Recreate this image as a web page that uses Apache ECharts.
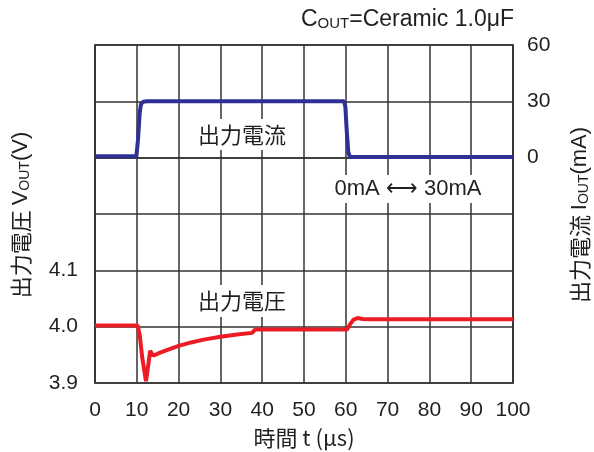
<!DOCTYPE html>
<html>
<head>
<meta charset="utf-8">
<script src="https://cdn.jsdelivr.net/npm/echarts@6/dist/echarts.min.js"></script>
<style>html,body{margin:0;padding:0;background:#fff;}#c{width:594px;height:452px;}</style>
</head>
<body>
<div id="c"></div>
<script>
// ---- data ----
const xTicks = [0, 10, 20, 30, 40, 50, 60, 70, 80, 90, 100];
const voltLabels = [3.9, 4.0, 4.1];
const curLabels = [0, 30, 60];

const voltT = [0, 10.2, 10.7, 11.3, 12.2, 12.8, 13.2, 13.6, 14.1, 15, 17, 20, 23, 26, 30, 34, 37.6, 38.3, 40, 50, 60.3, 61.0, 61.8, 62.8, 64, 66, 70, 80, 90, 100];
const voltV = [4.002, 4.002, 3.985, 3.945, 3.903, 3.935, 3.957, 3.952, 3.949, 3.952, 3.958, 3.966, 3.972, 3.977, 3.982, 3.986, 3.989, 3.995, 3.995, 3.995, 3.995, 4.004, 4.012, 4.0155, 4.0135, 4.013, 4.013, 4.013, 4.013, 4.013];

const curT = [0, 9.9, 10.3, 10.7, 11.0, 11.5, 12.5, 59.6, 59.9, 60.2, 60.6, 61.0, 62, 100];
const curV = [0.7, 0.7, 10, 24, 28.5, 29.8, 30, 30, 27, 15, 3, 0.3, 0.3, 0.3];

const voltData = voltT.map((t, i) => [t, voltV[i]]);
const curData = curT.map((t, i) => [t, curV[i]]);

const chart = echarts.init(document.getElementById('c'), null, {renderer: 'canvas'});
const font = '"Liberation Sans", Arial, "Noto Sans CJK JP", sans-serif';
const cjk = '"Noto Sans CJK JP", "Liberation Sans", sans-serif';
const txt = '#231f20';
const gridC = '#333333';

const option = {
  backgroundColor: '#ffffff',
  animation: false,
  grid: {left: 95, top: 45, width: 418, height: 338, show: true, borderColor: gridC, borderWidth: 1.5, backgroundColor: 'transparent'},
  xAxis: {
    type: 'value', min: 0, max: 100, interval: 10,
    axisLine: {show: true, lineStyle: {color: gridC, width: 1.5}},
    axisTick: {show: false},
    splitLine: {show: true, lineStyle: {color: gridC, width: 1.5}},
    axisLabel: {color: txt, fontSize: 21, fontFamily: font, margin: 17,
      formatter: v => xTicks.includes(Math.round(v)) ? String(Math.round(v)) : ''}
  },
  yAxis: [{
    type: 'value', min: 3.9, max: 4.5, interval: 0.1, position: 'left',
    axisLine: {show: true, lineStyle: {color: gridC, width: 1.5}},
    axisTick: {show: false},
    splitLine: {show: true, lineStyle: {color: gridC, width: 1.5}},
    axisLabel: {color: txt, fontSize: 21, fontFamily: font, margin: 17,
      formatter: v => { const r = Math.round(v * 10) / 10; return voltLabels.some(l => Math.abs(l - r) < 1e-6) ? r.toFixed(1) : ''; }}
  }, {
    type: 'value', min: -120, max: 60, interval: 30, position: 'right',
    axisLine: {show: true, lineStyle: {color: gridC, width: 1.5}},
    axisTick: {show: false},
    splitLine: {show: false},
    axisLabel: {color: txt, fontSize: 21, fontFamily: font, margin: 14,
      formatter: v => curLabels.includes(Math.round(v)) ? String(Math.round(v)) : ''}
  }],
  series: [{
    type: 'line', yAxisIndex: 0, data: voltData, showSymbol: false, symbol: 'none',
    lineStyle: {color: '#ed1c24', width: 4}, z: 5
  }, {
    type: 'line', yAxisIndex: 1, data: curData, showSymbol: false, symbol: 'none',
    lineStyle: {color: '#2e3192', width: 4}, z: 5
  }],
  graphic: [
    {type: 'rect', shape: {x: 187, y: 119, width: 110, height: 31}, style: {fill: '#fff'}, z: 3},
    {type: 'text', x: 242, y: 135, style: {text: '出力電流', font: '22px ' + cjk, fill: txt, align: 'center', verticalAlign: 'middle'}, z: 10},
    {type: 'rect', shape: {x: 187, y: 285, width: 110, height: 32}, style: {fill: '#fff'}, z: 3},
    {type: 'text', x: 242, y: 301, style: {text: '出力電圧', font: '22px ' + cjk, fill: txt, align: 'center', verticalAlign: 'middle'}, z: 10},
    {type: 'rect', shape: {x: 323, y: 175, width: 170, height: 28}, style: {fill: '#fff'}, z: 3},
    {type: 'text', x: 408, y: 189, style: {text: '0mA \u27F7 30mA', font: '22px ' + font, fill: txt, align: 'center', verticalAlign: 'middle'}, z: 10},
    {type: 'text', x: 514, y: 20, style: {
      text: '{n|C}{s|OUT}{n|=Ceramic 1.0μF}', align: 'right', verticalAlign: 'middle',
      rich: {n: {fontSize: 23, fontFamily: font, fill: txt, lineHeight: 23, verticalAlign: 'bottom'},
             s: {fontSize: 15, fontFamily: font, fill: txt, lineHeight: 15, verticalAlign: 'bottom'}}
    }, z: 10},
    {type: 'text', x: 21, y: 215, rotation: Math.PI / 2, style: {
      text: '{c|出力電圧 }{n|V}{s|OUT}{n|(V)}', align: 'center', verticalAlign: 'middle',
      rich: {c: {fontSize: 22, fontFamily: cjk, fill: txt, lineHeight: 22, verticalAlign: 'bottom'},
             n: {fontSize: 22, fontFamily: font, fill: txt, lineHeight: 22, verticalAlign: 'bottom'},
             s: {fontSize: 14, fontFamily: font, fill: txt, lineHeight: 14, verticalAlign: 'bottom'}}
    }, z: 10},
    {type: 'text', x: 580, y: 215, rotation: Math.PI / 2, style: {
      text: '{c|出力電流 }{n|I}{s|OUT}{n|(mA)}', align: 'center', verticalAlign: 'middle',
      rich: {c: {fontSize: 22, fontFamily: cjk, fill: txt, lineHeight: 22, verticalAlign: 'bottom'},
             n: {fontSize: 22, fontFamily: font, fill: txt, lineHeight: 22, verticalAlign: 'bottom'},
             s: {fontSize: 14, fontFamily: font, fill: txt, lineHeight: 14, verticalAlign: 'bottom'}}
    }, z: 10},
    {type: 'text', x: 304, y: 438, style: {text: '時間 t (μs)', font: '22px ' + cjk, fill: txt, align: 'center', verticalAlign: 'middle'}, z: 10}
  ]
};
chart.setOption(option);
</script>
</body>
</html>
